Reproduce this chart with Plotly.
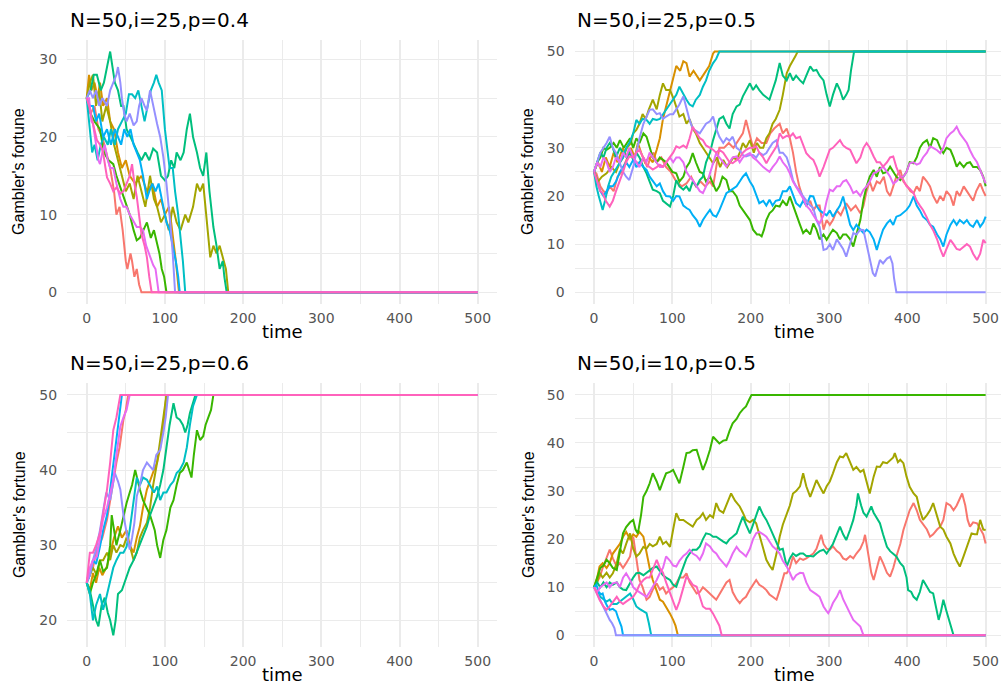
import plotly.graph_objects as go

# ---------------------------------------------------------------------------
# Gambler's ruin: ten simulated fortunes per panel, absorbed at 0 or N=50.
# Each walk is stored as (time, fortune) waypoints.
# ---------------------------------------------------------------------------

COLORS = ["#F8766D", "#D89000", "#A3A500", "#39B600", "#00BF7D",
          "#00BFC4", "#00B0F6", "#9590FF", "#E76BF3", "#FF62BC"]

TITLES = ["N=50,i=25,p=0.4", "N=50,i=25,p=0.5",
          "N=50,i=25,p=0.6", "N=50,i=10,p=0.5"]

X_TICKS = [0, 100, 200, 300, 400, 500]
Y_TICKS_P1 = [0, 10, 20, 30]
Y_TICKS_P2 = [0, 10, 20, 30, 40, 50]
Y_TICKS_P3 = [20, 30, 40, 50]
Y_TICKS_P4 = [0, 10, 20, 30, 40, 50]

X_LABEL = "time"
Y_LABEL = "Gambler's fortune"

# ---- panel 1: N=50, i=25, p=0.4 ------------------------------------------
P1_W1 = [(0, 25), (5, 23), (10, 24), (15, 21), (20, 20), (25, 18), (30, 16), (35, 13), (38, 10), (42, 11),
         (46, 8), (50, 4), (52, 3), (56, 5), (58, 4), (61, 2), (64, 3), (67, 1), (70, 0), (500, 0)]
P1_W2 = [(0, 25), (3, 28), (6, 26), (10, 27), (14, 25), (17, 27), (21, 24), (26, 25), (30, 22), (35, 21),
         (40, 18), (45, 16), (50, 17), (55, 15), (62, 14), (70, 15), (77, 13), (84, 14), (90, 11), (95, 12),
         (100, 10), (105, 11), (108, 9), (111, 6.7), (114, 4), (118, 0), (500, 0)]
P1_W3 = [(0, 25), (4, 27), (8, 28), (12, 24), (16, 26), (20, 22), (25, 24), (30, 22), (35, 19), (40, 17),
         (45, 15), (50, 13), (55, 14), (60, 12), (65, 15), (70, 13), (75, 11), (81, 15), (86, 12), (90, 11),
         (95, 9), (100, 10), (105, 8), (110, 11), (115, 9), (120, 8), (126, 10), (130, 9), (136, 11), (141, 14),
         (145, 13), (149, 14), (153, 10), (158, 4.5), (162, 6), (166, 5), (170, 6), (175, 4), (178, 3), (181, 0),
         (500, 0)]
P1_W4 = [(0, 25), (5, 23), (10, 22), (17, 21), (22, 18), (28, 17), (34, 16.5), (38, 15), (43, 13.5), (48, 12),
         (52, 11), (55, 10), (60, 8), (64, 6.7), (68, 7), (72, 8), (77, 9), (82, 7), (86, 8), (89, 6.7),
         (93, 5), (96, 3), (99, 2), (102, 0), (500, 0)]
P1_W5 = [(0, 25), (5, 26), (9, 28), (13, 28), (18, 26), (22, 27), (26, 29), (30, 31), (33, 29), (36, 27),
         (40, 26), (44, 24), (47, 24), (51, 21), (56, 20), (60, 19), (65, 18), (70, 17), (75, 18), (80, 17),
         (85, 18.5), (90, 18), (95, 15), (100, 14.4), (104, 15), (108, 17), (112, 16), (115, 18), (120, 17),
         (124, 18), (128, 21), (132, 23), (136, 20), (141, 18), (145, 16), (149, 15), (153, 18), (157, 13),
         (160, 10), (162, 8.4), (166, 6), (170, 3), (174, 4), (176, 2), (179, 0), (500, 0)]
P1_W6 = [(0, 25), (4, 21), (7, 18), (10, 19), (14, 17), (18, 19), (22, 20), (27, 19), (31, 21), (36, 19),
         (40, 21), (45, 22), (50, 23), (54, 25.5), (58, 25.5), (62, 25), (66, 26), (70, 24), (74, 22), (78, 24),
         (82, 26), (86, 27), (89, 28), (92, 27), (96, 26), (100, 21), (104, 18), (106, 16), (110, 16), (113, 13),
         (117, 10), (120, 7), (123, 4), (126, 0), (500, 0)]
P1_W7 = [(0, 25), (4, 24), (8, 24), (12, 22), (16, 23), (21, 20), (26, 21), (31, 19), (36, 21), (40, 20),
         (44, 19), (48, 21), (52, 20), (56, 21), (60, 19), (64, 18), (68, 17), (72, 15), (77, 12), (80, 13),
         (84, 14), (88, 13), (92, 14), (96, 12), (100, 10), (102, 9), (106, 8), (110, 6), (114, 4), (117, 2),
         (119, 0), (500, 0)]
P1_W8 = [(0, 25), (4, 26), (8, 25), (12, 26), (16, 24), (20, 25), (26, 24), (30, 26), (34, 27), (38, 28),
         (40, 29), (43, 27), (45, 25), (48, 23), (51, 22), (55, 23), (60, 21.5), (64, 22), (67, 24), (70, 25),
         (74, 24), (77, 23.4), (81, 26), (85, 24), (90, 21.7), (94, 20), (98, 17.4), (102, 14), (105, 11),
         (107, 8.8), (110, 5), (113, 0), (500, 0)]
P1_W9 = [(0, 25), (3, 25), (6, 22), (8, 21.7), (12, 19), (15, 17), (17, 16.5), (20, 18), (23, 19), (27, 17),
         (30, 16), (34, 16), (38, 14), (43, 12), (47, 11), (51, 11), (55, 10), (60, 9), (64, 8.4), (68, 8.4),
         (72, 8), (76, 6), (81, 4.5), (85, 3.5), (88, 3), (92, 0), (500, 0)]
P1_W10 = [(0, 25), (3, 24), (6, 22.6), (10, 21), (13, 19.6), (17, 19), (21, 18), (24, 16), (26, 14.8), (30, 14),
          (34, 13), (38, 13.5), (43, 12.7), (47, 13), (51, 14), (55, 15), (58, 16.5), (61, 14), (64, 12.3),
          (67, 10), (70, 7.5), (74, 6), (77, 4.5), (80, 2), (83, 0), (500, 0)]

# ---- panel 2: N=50, i=25, p=0.5 ------------------------------------------
P2_W1 = [(0, 25), (3, 24.7), (8, 22), (12, 21), (16, 20.6), (20, 22), (25, 21), (30, 24), (35, 25), (40, 27),
         (45, 29), (50, 28), (54, 27), (58, 26.8), (63, 28), (68, 26), (72, 28), (76, 29), (80, 27), (86, 28),
         (92, 26), (98, 25), (105, 23), (112, 22), (118, 22.6), (124, 24), (130, 22), (136, 23), (142, 22),
         (148, 23), (152, 22), (156, 26), (160, 30), (166, 30), (172, 31), (178, 30), (184, 31.6), (190, 33),
         (194, 35.8), (198, 33), (203, 30), (208, 32), (214, 31), (220, 31), (225, 33), (230, 34), (237, 35),
         (241, 33), (246, 34), (250, 32), (254, 29), (258, 25), (262, 22), (266, 20), (271, 18), (276, 19),
         (280, 17), (284, 18), (288, 18), (293, 13), (297, 15), (301, 14), (305, 15), (310, 17), (315, 16),
         (322, 18.5), (328, 17), (334, 18), (340, 16.4), (344, 18), (348, 21), (352, 23), (356, 21), (361, 23),
         (365, 22.6), (370, 24), (374, 21), (378, 20), (382, 22), (386, 24), (391, 25.4), (395, 23), (400, 22),
         (404, 21), (408, 20.6), (412, 22), (416, 21), (420, 24), (425, 23), (429, 22), (433, 20), (438, 18.5),
         (442, 20), (446, 19), (450, 21), (455, 20), (459, 18), (463, 21), (467, 20), (472, 22), (476, 21),
         (480, 20), (484, 19), (488, 21), (493, 22.6), (497, 21), (500, 20)]
P2_W2 = [(0, 25), (5, 27), (10, 25), (15, 28), (20, 26), (25, 29), (30, 27), (37, 30), (42, 28), (47, 30),
         (52, 28), (56, 31), (60, 29), (65, 27), (70, 28), (75, 27), (80, 29.6), (84, 32), (88, 36), (92, 38.6),
         (96, 41), (100, 44), (105, 47), (110, 46), (114, 48), (118, 47.6), (122, 44.8), (127, 46), (131, 45),
         (135, 44), (139, 45), (143, 46), (147, 47), (152, 49.6), (154, 50), (500, 50)]
P2_W3 = [(0, 25), (5, 23), (10, 24), (16, 24.7), (22, 26), (28, 25), (33, 27), (37, 28), (42, 30), (47, 31),
         (50, 33), (54, 33.7), (58, 35), (62, 37), (66, 36), (70, 38), (75, 40), (80, 38), (84, 41), (88, 43.4),
         (92, 42), (97, 42), (102, 40), (106, 38), (109, 36.5), (114, 37), (118, 35), (122, 36), (126, 34),
         (130, 33), (135, 31), (139, 30), (143, 29), (148, 28), (152, 26.8), (157, 28), (161, 26), (165, 27.5),
         (170, 26), (174, 27), (178, 28), (182, 27.5), (186, 29), (190, 31), (194, 30), (199, 31.6), (204, 29),
         (208, 31), (212, 30), (216, 30), (220, 32), (224, 33), (228, 35), (232, 36), (237, 37.9), (241, 41),
         (246, 45.5), (250, 47), (254, 48), (257, 49), (260, 50), (500, 50)]
P2_W4 = [(0, 25), (4, 27), (8, 28), (12, 30), (16, 29.6), (20, 30), (25, 31), (29, 30), (33, 31.6), (38, 30),
         (42, 31), (46, 32), (50, 30), (54, 32), (58, 31), (63, 33), (67, 32.3), (71, 30), (75, 28), (80, 27),
         (84, 28), (88, 27.5), (92, 27), (96, 26), (100, 25), (105, 24.7), (109, 23), (114, 24), (118, 26),
         (122, 27), (126, 28.9), (130, 27), (135, 25), (139, 24.7), (143, 23), (148, 24), (152, 22.6), (156, 21),
         (160, 22), (164, 24), (169, 23.3), (173, 21), (177, 21), (182, 19.9), (186, 18), (190, 17), (194, 16),
         (199, 15), (203, 13), (208, 12), (211, 12), (214, 11.6), (217, 13), (220, 15), (224, 16.4), (228, 17),
         (232, 18), (237, 17.8), (241, 19), (246, 18), (250, 19.9), (254, 18), (258, 16), (263, 14), (267, 12.3),
         (271, 13), (276, 12), (280, 14.3), (284, 13), (288, 11), (293, 12), (297, 10.9), (301, 12), (305, 13),
         (310, 12.3), (314, 11), (318, 12), (322, 12), (327, 11), (331, 9.5), (335, 12), (340, 15), (344, 19.2),
         (348, 22), (352, 24), (357, 25.4), (361, 24), (365, 26), (369, 24.7), (374, 25), (378, 26.1), (382, 25),
         (386, 24), (391, 23.3), (395, 24), (399, 25), (403, 27), (408, 26.8), (412, 28), (416, 30), (420, 31),
         (425, 31.6), (429, 30), (433, 32), (438, 31.6), (442, 30), (446, 28.9), (450, 30), (455, 29.6), (459, 28),
         (463, 26.1), (467, 27), (472, 26), (476, 26.8), (480, 27), (484, 26), (489, 26), (493, 25.4), (497, 24),
         (500, 22)]
P2_W5 = [(0, 25), (4, 27), (8, 29), (12, 28), (16, 30), (20, 31), (24, 30), (28, 28), (33, 30), (37, 29),
         (42, 28), (46, 29), (50, 27.5), (54, 29), (58, 28), (63, 26), (67, 24.7), (71, 23), (75, 21.3), (80, 21),
         (84, 20.6), (88, 19), (92, 18.5), (97, 17.8), (101, 20), (105, 23.3), (109, 22), (114, 21.3), (118, 22),
         (122, 21), (126, 23), (131, 22), (135, 23.3), (139, 24), (143, 27), (148, 29), (152, 31.6), (156, 34),
         (160, 36), (165, 36.5), (169, 35), (173, 34), (177, 37), (182, 38.6), (186, 39), (190, 40.7), (194, 42),
         (199, 43.4), (203, 42), (207, 43), (211, 42), (216, 41), (220, 40.5), (224, 40), (228, 42), (232, 44),
         (237, 47.6), (241, 45), (246, 44), (250, 45.5), (254, 44), (258, 45), (263, 44), (267, 43.4), (271, 45),
         (276, 46.9), (280, 46), (284, 46.2), (288, 45), (293, 44), (297, 41), (301, 38.6), (305, 41),
         (310, 43.4), (314, 42), (318, 40), (322, 41), (325, 42), (328, 46), (332, 50), (500, 50)]
P2_W6 = [(0, 25), (3, 22), (6, 20), (9, 18), (11, 17.1), (14, 19), (18, 22), (22, 24), (26, 25), (30, 26),
         (34, 27), (37, 28), (41, 30), (45, 31), (50, 33), (54, 35.8), (58, 35), (62, 36), (67, 35.8), (71, 35),
         (75, 36), (80, 35.8), (84, 36), (88, 37), (92, 37.9), (96, 39), (100, 40), (105, 41), (109, 42.7),
         (114, 41), (118, 40), (122, 39), (126, 38.6), (130, 40), (135, 41), (139, 42.7), (143, 44), (147, 46),
         (152, 47.6), (156, 48.5), (160, 50), (500, 50)]
P2_W7 = [(0, 25), (4, 23), (8, 21), (12, 20), (16, 21), (20, 22), (24, 22), (28, 23), (33, 25), (37, 26),
         (41, 27), (45, 26), (50, 27.5), (54, 26), (58, 27), (63, 26), (67, 25.4), (71, 24), (75, 23), (80, 22),
         (84, 22.6), (88, 21), (92, 20), (97, 19.9), (101, 19), (105, 20), (109, 19.9), (114, 18), (118, 17.5),
         (122, 17.1), (126, 16), (131, 15), (135, 13.6), (139, 15), (143, 16), (148, 17.1), (152, 16),
         (156, 15.7), (160, 17), (165, 19), (169, 20.6), (173, 21), (177, 21.5), (182, 22), (186, 23), (190, 24),
         (194, 24.7), (199, 23), (203, 22), (207, 20), (211, 18.5), (216, 19), (220, 18), (224, 19.2), (228, 18),
         (232, 19), (237, 19.2), (241, 21), (246, 21), (250, 22), (254, 20), (258, 18.5), (263, 17.8), (267, 19),
         (271, 18), (276, 20), (280, 19.9), (284, 18), (288, 17), (293, 16.4), (297, 16), (301, 17), (305, 15.7),
         (310, 17), (314, 18), (318, 19.9), (322, 17), (327, 14), (331, 12.9), (335, 14), (340, 13), (344, 12.3),
         (348, 13), (352, 12.5), (357, 11), (361, 8.8), (365, 11), (369, 13), (374, 14.3), (378, 15), (382, 14),
         (386, 15.7), (391, 16), (395, 16.5), (399, 17.1), (403, 18), (408, 19.9), (412, 18), (416, 17),
         (420, 15.7), (425, 15), (429, 14), (433, 13.6), (438, 12), (442, 11), (446, 9.5), (450, 12), (455, 14),
         (459, 15), (463, 14), (467, 15), (472, 14.3), (476, 15), (480, 14), (484, 13.6), (489, 15), (493, 13.6),
         (497, 14.5), (500, 15.7)]
P2_W8 = [(0, 25), (4, 27), (8, 29), (12, 30), (16, 31), (20, 32.3), (24, 30), (28, 29), (33, 27), (37, 25),
         (41, 24), (45, 23.3), (50, 26), (54, 29), (58, 32), (63, 35), (67, 36.5), (71, 37.9), (75, 38), (80, 37),
         (84, 37.2), (88, 36), (92, 36.5), (97, 37), (101, 37), (105, 37.9), (109, 39), (114, 40.7), (118, 38),
         (122, 35.8), (126, 34), (131, 33.5), (135, 33), (139, 34), (143, 35), (148, 35.5), (152, 36.5), (156, 34),
         (160, 32.3), (165, 31), (169, 32), (173, 31.5), (177, 32.3), (182, 30), (186, 29.5), (190, 28.5),
         (194, 28.2), (199, 28.5), (203, 28.5), (207, 28), (211, 29), (216, 28.5), (220, 28.9), (224, 30),
         (228, 31), (233, 31.6), (237, 29), (241, 29), (246, 28), (250, 26), (254, 23.3), (258, 22), (263, 21),
         (267, 19.9), (271, 19), (276, 18), (280, 17.5), (284, 15), (288, 13.6), (293, 8.8), (297, 9), (301, 10),
         (305, 8.8), (310, 11), (314, 10), (318, 9), (322, 7.4), (327, 10), (331, 12.3), (335, 12), (340, 13),
         (344, 12.9), (348, 10), (352, 6.7), (356, 4), (359, 3.3), (362, 5), (365, 6.7), (369, 6), (374, 7),
         (378, 7.4), (381, 6), (383, 3), (386, 0), (500, 0)]
P2_W9 = [(0, 25), (4, 27), (8, 26), (12, 28), (16, 27), (20, 25), (24, 26), (28, 28), (33, 27), (37, 29),
         (41, 28), (45, 30), (50, 28), (54, 27), (58, 26), (63, 28), (67, 27), (71, 29), (75, 28), (80, 27),
         (84, 26), (88, 26), (92, 27), (97, 28), (101, 27), (105, 28), (109, 28), (114, 27), (118, 25), (122, 24),
         (126, 23.3), (131, 22), (135, 21), (139, 20.6), (143, 22), (148, 24.7), (152, 27), (156, 28.9), (160, 28),
         (165, 27), (169, 26.1), (173, 27), (177, 28), (182, 28.2), (186, 27), (190, 28), (194, 28.5), (199, 28.9),
         (203, 28), (207, 27.5), (211, 26.8), (216, 26), (220, 25.5), (224, 25), (228, 26), (233, 27), (237, 28.2),
         (241, 27), (246, 26), (250, 24.7), (254, 23), (258, 22), (263, 20.6), (267, 19.5), (271, 18), (276, 17.1),
         (280, 16), (284, 15), (288, 14.3), (293, 16), (297, 19), (301, 21.3), (305, 21), (310, 22), (314, 22),
         (318, 23), (322, 23.3), (327, 22), (331, 20.6), (335, 21), (340, 20), (344, 21.3), (348, 22), (352, 23),
         (357, 24.7), (361, 25), (365, 25.5), (369, 26.1), (374, 25), (378, 24), (382, 22.6), (386, 23), (391, 24),
         (395, 24), (399, 25), (403, 26.8), (408, 27), (412, 26.5), (416, 26.8), (420, 28), (425, 29), (429, 30.3),
         (433, 30), (438, 29.5), (442, 28.9), (446, 30), (450, 32), (455, 33), (459, 33.5), (463, 34.4), (467, 33),
         (472, 32), (476, 31), (480, 29.5), (484, 28.2), (489, 27), (493, 25.4), (497, 24), (500, 22.6)]
P2_W10 = [(0, 25), (4, 23), (8, 21), (11, 20.6), (15, 19), (20, 17.8), (24, 19), (28, 21), (33, 23), (37, 25),
          (41, 27), (45, 28.2), (50, 28), (54, 29), (58, 29.6), (63, 28), (67, 26.5), (71, 26), (75, 25.5),
          (80, 26), (84, 26.5), (88, 26.1), (92, 27), (97, 28), (101, 29), (105, 30.3), (109, 30), (114, 30.5),
          (118, 30), (122, 32), (126, 34.4), (131, 33), (135, 32), (139, 31.6), (143, 30.5), (148, 30),
          (152, 29.6), (156, 29), (160, 29.6), (165, 29), (169, 28), (173, 27), (177, 26.8), (182, 27.5),
          (186, 28), (190, 29), (194, 29.6), (199, 30), (203, 30), (207, 30.3), (211, 29), (216, 28), (220, 26.8),
          (224, 28), (228, 29), (233, 30.3), (237, 33), (241, 32), (246, 32.5), (250, 32.3), (254, 33), (258, 32),
          (263, 32.3), (267, 30.5), (271, 28.9), (276, 28), (280, 27.5), (284, 26), (288, 24), (293, 26),
          (297, 28), (301, 29.6), (305, 30), (310, 31), (314, 31.6), (318, 30.5), (322, 30), (327, 29.6),
          (331, 28), (335, 26.8), (340, 28), (344, 30), (348, 31), (352, 30), (357, 28.2), (361, 27), (365, 27),
          (369, 26.1), (374, 27), (378, 28), (382, 28.2), (386, 26), (391, 24), (395, 23.3), (399, 22),
          (403, 21.5), (408, 20.6), (412, 19), (416, 18), (420, 17.1), (425, 15.5), (429, 14), (433, 12.9),
          (438, 11), (442, 9), (446, 7.4), (450, 9), (455, 10.9), (459, 10), (463, 9), (467, 8.8), (472, 9.5),
          (476, 10), (480, 9.5), (484, 8), (489, 6.7), (493, 8), (497, 10.9), (500, 10.2)]

# ---- panel 3: N=50, i=25, p=0.6 ------------------------------------------
P3_W1 = [(0, 25), (4, 27), (8, 27), (12, 29), (16, 30), (20, 31), (26, 33.4), (30, 36), (34, 38), (38, 41),
         (42, 43), (47, 46.7), (50, 48), (53, 50), (500, 50)]
P3_W2 = [(0, 25), (4, 24), (8, 26.3), (12, 25), (16, 27), (20, 26), (26, 27.2), (30, 29), (35, 31), (40, 32.5),
         (45, 31), (51, 32), (55, 30), (60, 29), (64, 31), (68, 32.5), (72, 35), (77, 37.4), (82, 39), (86, 40),
         (90, 41), (94, 43), (98, 46), (102, 50), (500, 50)]
P3_W3 = [(0, 25), (4, 26), (8, 27), (13, 26), (17, 28), (21, 28), (26, 29), (30, 28), (34, 30), (38, 29),
         (43, 30), (47, 29.8), (51, 31), (55, 30), (60, 28), (64, 29), (68, 31), (72, 32), (77, 33), (81, 35),
         (85, 38), (90, 41), (94, 44), (98, 47), (102, 50), (500, 50)]
P3_W4 = [(0, 25), (4, 23.5), (8, 25), (12, 26), (17, 28), (21, 26.5), (26, 27), (30, 30), (32, 34), (35, 32),
         (38, 30), (43, 32), (47, 34), (51, 35.6), (55, 37), (58, 38), (62, 40), (65, 38.5), (68, 37.4), (72, 36),
         (77, 35), (81, 34), (84, 33), (87, 32), (90, 30), (94, 28.3), (98, 30.7), (102, 32), (107, 35),
         (111, 36), (115, 38), (119, 39.6), (123, 40), (128, 41), (131, 40), (134, 39), (137, 42), (141, 45.3),
         (145, 44), (149, 44.5), (152, 46), (156, 47), (159, 48), (162, 50), (500, 50)]
P3_W5 = [(0, 25), (4, 24), (8, 22), (12, 20), (15, 19.2), (19, 22), (23, 23), (27, 21), (30, 20), (32, 19),
         (34, 18), (37, 20), (40, 23.5), (45, 24), (51, 25.8), (55, 27), (60, 28), (64, 29), (68, 30), (72, 31),
         (77, 32.5), (81, 34), (85, 35), (90, 36.5), (94, 38), (98, 40), (102, 43), (106, 46), (111, 48.9),
         (115, 47), (119, 46.7), (123, 46), (126, 45), (129, 46), (132, 47.6), (136, 49), (139, 50), (500, 50)]
P3_W6 = [(0, 25), (4, 23.5), (8, 20), (12, 22), (17, 23.5), (21, 21.4), (25, 23), (30, 25.3), (34, 27), (38, 28),
         (43, 29), (47, 29), (51, 29.8), (55, 32), (60, 36), (64, 39), (68, 38), (72, 39), (77, 38.7), (81, 38),
         (86, 37), (90, 37.8), (94, 36), (98, 37), (102, 37), (107, 38), (111, 38.5), (115, 39.6), (119, 40),
         (124, 41), (128, 43), (132, 46), (136, 48.5), (141, 50), (500, 50)]
P3_W7 = [(0, 25), (4, 26), (8, 28), (12, 27.5), (17, 29.8), (21, 32), (26, 34), (30, 37.4), (34, 40), (37, 43),
         (40, 45.8), (43, 48), (45, 50), (500, 50)]
P3_W8 = [(0, 25), (4, 26), (8, 28), (12, 29.5), (17, 32), (21, 34.7), (25, 37), (30, 36), (33, 38), (36, 39.6),
         (40, 38.5), (43, 37.4), (47, 34), (51, 31.6), (55, 29.4), (58, 31), (61, 33), (64, 36.5), (68, 38),
         (72, 40), (77, 41), (81, 40.5), (85, 40), (89, 42), (94, 42.7), (98, 45), (101, 47), (104, 50), (500, 50)]
P3_W9 = [(0, 25), (4, 27), (8, 28), (13, 28.5), (17, 31), (21, 33.5), (26, 35), (30, 37), (34, 38.7), (38, 42),
         (43, 45.8), (47, 47), (51, 48), (55, 50), (500, 50)]
P3_W10 = [(0, 25), (4, 29), (8, 29), (12, 30), (17, 31.6), (21, 34), (26, 37.4), (30, 41), (34, 45.3), (38, 47),
          (43, 50), (500, 50)]

# ---- panel 4: N=50, i=10, p=0.5 ------------------------------------------
P4_W1 = [(0, 10), (4, 11), (7, 12), (11, 14), (16, 16), (20, 17.8), (24, 16), (29, 14.3), (33, 15), (37, 14),
         (41, 15), (46, 16.4), (50, 20.5), (54, 16), (58, 11.5), (62, 10), (67, 7.4), (71, 8), (75, 9.5),
         (80, 10.8), (84, 9.5), (88, 10), (92, 8.7), (97, 9.5), (101, 10), (105, 10.8), (109, 12), (114, 12),
         (118, 12.9), (122, 11), (126, 10), (131, 8.7), (135, 9), (139, 10), (143, 9.4), (148, 8.5), (152, 8),
         (156, 7.4), (160, 8.5), (165, 10), (169, 11), (173, 11.5), (177, 9), (182, 7.5), (186, 6.7), (190, 7.5),
         (194, 8), (199, 9.5), (203, 10.5), (207, 11.5), (211, 10.5), (216, 10), (220, 9.4), (224, 8.5), (228, 8),
         (233, 7.4), (237, 9.4), (243, 12.9), (246, 12.9), (250, 14), (254, 16.4), (258, 15), (263, 16),
         (267, 15.7), (271, 16), (276, 16.5), (280, 17), (284, 18), (288, 20), (290, 20.9), (293, 19), (297, 18),
         (301, 17.8), (305, 18.5), (310, 17.5), (314, 17), (318, 16), (322, 15.7), (327, 16.5), (331, 16),
         (335, 17), (340, 18), (344, 19.5), (346, 20.9), (350, 17), (354, 13), (357, 11.5), (361, 14),
         (365, 16.4), (369, 15), (374, 13), (378, 12.2), (382, 14), (386, 16.4), (391, 19), (395, 21.9), (399, 24),
         (403, 26), (408, 27.5), (412, 26), (416, 24), (420, 23), (425, 22), (429, 20.5), (433, 21), (438, 22),
         (442, 22.6), (446, 24), (450, 27.5), (455, 27), (459, 26), (463, 27), (467, 28.5), (470, 29.5),
         (474, 27), (477, 24), (480, 22.6), (484, 23.5), (489, 23.3), (493, 22), (497, 21), (500, 19.1)]
P4_W2 = [(0, 10), (4, 12), (7, 14.3), (11, 15), (16, 14), (20, 15), (24, 17), (29, 18), (33, 19), (37, 20.5),
         (41, 21.5), (46, 20), (50, 21), (54, 20.5), (58, 21.5), (63, 20.5), (67, 17), (71, 14), (75, 11.5),
         (80, 9), (84, 7.4), (88, 7), (92, 6), (97, 4.5), (101, 3.2), (104, 2), (107, 0), (500, 0)]
P4_W3 = [(0, 10), (4, 11), (7, 13), (11, 12), (16, 13), (20, 12), (24, 12.9), (29, 15), (33, 18), (37, 17),
         (41, 19), (46, 21.2), (50, 18), (54, 16.4), (58, 17), (63, 18.4), (67, 18), (71, 19), (75, 18.5),
         (80, 19), (84, 20.5), (88, 19), (92, 19.5), (97, 18.4), (101, 22), (105, 25.4), (109, 24), (114, 24),
         (118, 23.5), (122, 23), (126, 22.6), (131, 24), (135, 24.5), (139, 25.4), (143, 24), (148, 25),
         (152, 24.5), (156, 27.5), (160, 26), (165, 25.5), (169, 27), (173, 28.5), (175, 29.5), (180, 28),
         (186, 26.8), (190, 25.5), (194, 24), (199, 23.5), (203, 24), (207, 23.3), (211, 21), (216, 18),
         (220, 15.7), (224, 14.5), (228, 13.6), (233, 17), (237, 20.5), (241, 23), (246, 25.4), (250, 27),
         (254, 29.5), (258, 30), (263, 31), (267, 33.7), (271, 31), (276, 28.8), (280, 30.5), (284, 32.3),
         (288, 31), (293, 29.5), (297, 31), (301, 32), (305, 33.7), (310, 36), (314, 37.2), (318, 37),
         (322, 37.9), (327, 36), (331, 34.4), (335, 35), (340, 34), (344, 34.4), (348, 32), (352, 29.5), (357, 33),
         (361, 35.1), (365, 35), (369, 36), (374, 35.8), (378, 36.5), (382, 37), (384, 37.9), (388, 36),
         (391, 36.5), (395, 35.8), (399, 33), (403, 30.9), (408, 29.5), (412, 28.8), (416, 26), (420, 24),
         (425, 25), (429, 26), (433, 27.5), (438, 25), (442, 22.6), (446, 22), (450, 20.5), (455, 19.1), (459, 17),
         (463, 15.5), (467, 14.3), (472, 16.5), (476, 18.4), (480, 20.5), (482, 21.2), (486, 21), (489, 21),
         (493, 24), (497, 22), (500, 21.9)]
P4_W4 = [(0, 10), (4, 12), (8, 14), (12, 14.5), (16, 15.7), (20, 15), (24, 14), (29, 13.6), (33, 17), (37, 21.2),
         (41, 22.5), (46, 23.5), (50, 24), (53, 22), (56, 21.2), (60, 25), (63, 28.8), (67, 30), (71, 31.6),
         (75, 33.7), (80, 32), (84, 30.2), (88, 32), (92, 33.7), (97, 34), (101, 34.4), (105, 33), (109, 31.6),
         (114, 35), (118, 37.9), (122, 38), (126, 38.5), (131, 38.6), (135, 36.5), (139, 34.4), (143, 36),
         (148, 38.6), (152, 41.3), (156, 40.5), (160, 39.9), (165, 40.5), (169, 40.6), (173, 42.5), (177, 44.1),
         (182, 45), (186, 46.2), (190, 47), (194, 47.6), (198, 49), (201, 50), (500, 50)]
P4_W5 = [(0, 10), (4, 11), (8, 10), (12, 11), (16, 10), (20, 11), (24, 10.5), (29, 11), (33, 10), (37, 9.5),
         (41, 9.4), (46, 11), (50, 12), (54, 12.9), (58, 13), (63, 12.5), (67, 13), (71, 13.5), (75, 14),
         (80, 14.3), (84, 13.5), (88, 12.5), (92, 12), (97, 11.5), (101, 10.5), (105, 10.1), (109, 12),
         (114, 14.3), (118, 16), (122, 17), (126, 17.8), (131, 17.8), (135, 18.5), (139, 20), (143, 21.2),
         (148, 21), (152, 20.5), (156, 20.5), (160, 20), (165, 19.5), (169, 19.1), (173, 20), (177, 20.5),
         (182, 21.2), (186, 23), (190, 24.7), (194, 23), (199, 21.2), (203, 23), (207, 25), (211, 26.8), (216, 25),
         (220, 24), (224, 22.6), (228, 21), (233, 19), (237, 17.8), (241, 18), (246, 14.3), (250, 16), (254, 17),
         (258, 16.5), (263, 17), (267, 17), (271, 16.5), (276, 16.5), (280, 16.4), (284, 17), (288, 17.5),
         (293, 17.8), (297, 17), (301, 18), (305, 19), (310, 21), (314, 22.6), (318, 21), (322, 19.8), (327, 22),
         (331, 24), (335, 27), (337, 29.5), (341, 27), (344, 25.5), (348, 24.7), (352, 26), (354, 26.8),
         (357, 25.5), (361, 24.5), (365, 23.3), (369, 21), (374, 18.4), (378, 17.5), (382, 17), (386, 16.4),
         (391, 15), (395, 14.3), (399, 12), (401, 9.4), (405, 9), (408, 8), (412, 7.4), (416, 9), (420, 11.5),
         (425, 10), (429, 9), (433, 8.7), (436, 6), (440, 3.2), (443, 5), (446, 7.4), (450, 5), (453, 3.2),
         (456, 1.5), (459, 0), (500, 0)]
P4_W6 = [(0, 10), (4, 9), (8, 8), (12, 7.5), (16, 7), (20, 7.4), (24, 6.5), (29, 6.5), (33, 7), (37, 7.5),
         (41, 8), (46, 8.7), (50, 7.5), (54, 6), (58, 5.5), (63, 5), (67, 4.6), (70, 2.5), (73, 0), (500, 0)]
P4_W7 = [(0, 10), (3, 10.5), (6, 9), (9, 8.5), (11, 8.7), (14, 7), (17, 6), (20, 5.3), (24, 5.5), (28, 5),
         (31, 3.5), (35, 1.8), (37, 0), (500, 0)]
P4_W8 = [(0, 10), (3, 9), (6, 8), (9, 7), (11, 6), (14, 5), (17, 4), (20, 3.2), (23, 2.5), (26, 1.5), (28, 0),
         (500, 0)]
P4_W9 = [(0, 10), (4, 9), (8, 10), (12, 10.5), (16, 11), (20, 10), (24, 10.8), (29, 11), (33, 10), (37, 12),
         (41, 12.9), (46, 11.5), (50, 10), (54, 9.4), (58, 9), (63, 8.5), (67, 8), (71, 9), (75, 10), (80, 11.5),
         (84, 12.9), (88, 14), (92, 16.4), (97, 15.5), (101, 14.5), (105, 14.3), (109, 15.5), (114, 16.5),
         (118, 17), (122, 17.8), (126, 17), (131, 16.5), (135, 15.7), (139, 17), (143, 19.1), (148, 18.5),
         (152, 17.5), (156, 17), (160, 16), (165, 15), (169, 14.3), (173, 15.5), (177, 17), (182, 18.4),
         (186, 17.5), (190, 17), (194, 16.4), (199, 18), (203, 20), (207, 21.2), (211, 21.5), (216, 21),
         (220, 20.5), (224, 19.5), (228, 18.5), (233, 17.8), (237, 17), (241, 15.5), (246, 14.3), (250, 13),
         (254, 11.5), (258, 12.5), (263, 13), (267, 12.9), (271, 11), (276, 9.4), (280, 9), (284, 8.5), (288, 8),
         (293, 6), (297, 5), (299, 4.6), (302, 5.5), (305, 6.7), (310, 8), (314, 9.4), (318, 7.5), (322, 6),
         (327, 4.5), (331, 3.2), (335, 2.5), (340, 1.8), (344, 0), (500, 0)]
P4_W10 = [(0, 10), (4, 8.5), (7, 7.4), (12, 6), (16, 5.3), (20, 6), (24, 7), (29, 8), (33, 7), (37, 6.5),
          (41, 7), (46, 7.5), (50, 8), (54, 9), (58, 10.5), (63, 11.5), (67, 12), (71, 12), (75, 13.5),
          (80, 15.7), (84, 14), (88, 13), (92, 11), (97, 8.7), (101, 7), (105, 5.3), (109, 7), (114, 10),
          (118, 12.2), (122, 11.5), (126, 10.5), (131, 10.1), (135, 8), (139, 6), (143, 5.5), (148, 5.5),
          (152, 4.5), (156, 3.2), (160, 2), (163, 0), (500, 0)]

PANEL_WALKS = [
    [P1_W1, P1_W2, P1_W3, P1_W4, P1_W5, P1_W6, P1_W7, P1_W8, P1_W9, P1_W10],
    [P2_W1, P2_W2, P2_W3, P2_W4, P2_W5, P2_W6, P2_W7, P2_W8, P2_W9, P2_W10],
    [P3_W1, P3_W2, P3_W3, P3_W4, P3_W5, P3_W6, P3_W7, P3_W8, P3_W9, P3_W10],
    [P4_W1, P4_W2, P4_W3, P4_W4, P4_W5, P4_W6, P4_W7, P4_W8, P4_W9, P4_W10],
]
PANEL_YTICKS = [Y_TICKS_P1, Y_TICKS_P2, Y_TICKS_P3, Y_TICKS_P4]

# ---------------------------------------------------------------------------
# Page geometry (pixels) for the 2x2 grid
# ---------------------------------------------------------------------------
W, H = 1001, 684
COL_PX = [(67.15, 497.25), (574.7, 1001.0)]
ROW_PX = [(39.5, 304.3), (382.9, 647.3)]
X_RANGES = [[-25, 525], [-24.7, 519.6]]
Y_RANGES = [[-1.55, 32.55], [-2.5, 52.5], [16.4, 51.6], [-2.5, 52.5]]

GRID = "#EBEBEB"
TICK_FONT = dict(family="DejaVu Sans", size=14, color="#555555")
TEXT_FONT = "DejaVu Sans"

fig = go.Figure()
layout = dict(
    width=W, height=H,
    margin=dict(l=0, r=0, t=0, b=0),
    paper_bgcolor="white", plot_bgcolor="white",
    showlegend=False,
)
annotations = []

for k in range(4):
    row, col = divmod(k, 2)
    sfx = "" if k == 0 else str(k + 1)
    x0, x1 = COL_PX[col]
    ytop, ybot = ROW_PX[row]

    for walk, color in zip(PANEL_WALKS[k], COLORS):
        fig.add_trace(go.Scatter(
            x=[p[0] for p in walk], y=[p[1] for p in walk],
            mode="lines", line=dict(color=color, width=2),
            xaxis="x" + sfx, yaxis="y" + sfx, hoverinfo="skip",
        ))

    layout["xaxis" + sfx] = dict(
        domain=[x0 / W, x1 / W], range=X_RANGES[col], anchor="y" + sfx,
        tickmode="array", tickvals=X_TICKS, ticks="", showline=False, zeroline=False,
        showgrid=True, gridcolor=GRID, gridwidth=1.8,
        minor=dict(dtick=50, tick0=0, showgrid=True, gridcolor=GRID, gridwidth=1.0),
        tickfont=TICK_FONT, ticklabelstandoff=4,
    )
    ytv = PANEL_YTICKS[k]
    layout["yaxis" + sfx] = dict(
        domain=[1 - ybot / H, 1 - ytop / H], range=Y_RANGES[k], anchor="x" + sfx,
        tickmode="array", tickvals=ytv, ticks="", showline=False, zeroline=False,
        showgrid=True, gridcolor=GRID, gridwidth=1.3,
        minor=dict(dtick=5, tick0=0, showgrid=True, gridcolor=GRID, gridwidth=0.8),
        tickfont=TICK_FONT, ticklabelstandoff=9,
    )

    # panel title
    annotations.append(dict(
        text=TITLES[k], xref="paper", yref="paper",
        x=(x0 + 0.5) / W, y=1 - (ytop - 20) / H, xanchor="left", yanchor="middle",
        showarrow=False, font=dict(family=TEXT_FONT, size=20, color="black"),
    ))
    # x axis title
    annotations.append(dict(
        text=X_LABEL, xref="paper", yref="paper",
        x=(282.2 if col == 0 else 794) / W, y=1 - (ybot + 27) / H,
        xanchor="center", yanchor="middle",
        showarrow=False, font=dict(family=TEXT_FONT, size=18, color="black"),
    ))
    # y axis title
    annotations.append(dict(
        text=Y_LABEL, xref="paper", yref="paper", textangle=-90,
        x=(19 if col == 0 else 528) / W, y=1 - (ytop + ybot) / 2 / H,
        xanchor="center", yanchor="middle",
        showarrow=False,
        font=dict(family="Liberation Sans", size=16, color="black"),
    ))

layout["annotations"] = annotations
fig.update_layout(**layout)
fig.write_html("out.html")
